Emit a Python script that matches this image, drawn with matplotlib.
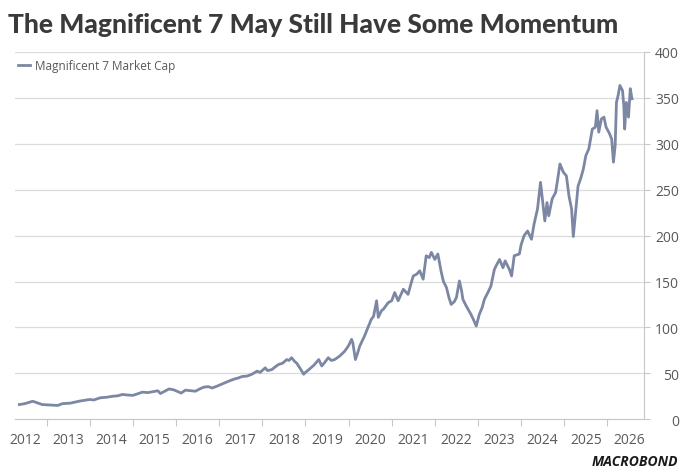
import matplotlib
matplotlib.use("Agg")
import matplotlib.pyplot as plt

# values (fractional year, market cap index)
years = [2012.37, 2012.5, 2012.68, 2012.9, 2013.1, 2013.26, 2013.37, 2013.55, 2013.76,
         2014.0, 2014.1, 2014.24, 2014.4, 2014.53, 2014.65, 2014.76, 2014.85,
         2015.0, 2015.1, 2015.22, 2015.35, 2015.52, 2015.58, 2015.64, 2015.72, 2015.84, 2015.95,
         2016.07, 2016.12, 2016.22, 2016.35, 2016.45, 2016.55, 2016.65, 2016.75, 2016.84, 2016.95,
         2017.05, 2017.14, 2017.25, 2017.37, 2017.45, 2017.53, 2017.65, 2017.76, 2017.88, 2017.95,
         2018.07, 2018.12, 2018.22, 2018.3, 2018.38, 2018.47, 2018.57, 2018.62, 2018.68, 2018.75,
         2018.8, 2018.87, 2018.96, 2019.0, 2019.08, 2019.2, 2019.31, 2019.38, 2019.45, 2019.53,
         2019.6, 2019.68, 2019.8, 2019.91, 2020.0, 2020.07, 2020.1, 2020.16, 2020.21, 2020.26,
         2020.37, 2020.45, 2020.53, 2020.58, 2020.65, 2020.69, 2020.76, 2020.81, 2020.92,
         2021.0, 2021.07, 2021.15, 2021.27, 2021.38, 2021.45, 2021.5, 2021.58, 2021.65, 2021.73,
         2021.8, 2021.87, 2021.92, 2022.0, 2022.07, 2022.15, 2022.2, 2022.27, 2022.33, 2022.38,
         2022.45, 2022.5, 2022.57, 2022.62, 2022.65, 2022.72, 2022.77, 2022.84, 2022.9, 2022.96,
         2023.03, 2023.1, 2023.15, 2023.23, 2023.3, 2023.38, 2023.42, 2023.5, 2023.58, 2023.63,
         2023.73, 2023.78, 2023.84, 2023.96, 2024.0, 2024.07, 2024.15, 2024.24, 2024.3, 2024.38,
         2024.45, 2024.51, 2024.55, 2024.6, 2024.64, 2024.72, 2024.8, 2024.85, 2024.9, 2024.98,
         2025.05, 2025.11, 2025.17, 2025.21, 2025.27, 2025.32, 2025.38, 2025.44, 2025.5, 2025.57,
         2025.65, 2025.72, 2025.76, 2025.8, 2025.86, 2025.92, 2025.97, 2026.05, 2026.1, 2026.14,
         2026.18, 2026.21, 2026.25, 2026.29, 2026.35, 2026.38, 2026.4, 2026.44, 2026.49, 2026.53,
         2026.57]
mag7 = [16, 17, 19.6, 16, 15.5, 15, 17, 17.5, 19.7,
        21.5, 21, 23.3, 24, 25, 25.5, 27, 26.5,
        26, 27.5, 29.5, 29, 30.5, 31, 28, 30, 33, 32,
        29.5, 28.5, 31.7, 31, 30.5, 33, 35, 35.5, 34, 36,
        38, 39.7, 42, 44, 45, 46.5, 47, 49, 52.4, 51,
        56, 53, 54, 57, 59.7, 61, 65, 64, 67, 63,
        61, 56, 49, 51, 54, 59, 65, 58, 62, 67,
        64, 65, 69, 74, 80, 87, 83, 65, 72, 79.7,
        90.6, 100, 109, 112, 129, 111, 118, 120, 127,
        129, 138, 129, 141.6, 136, 148, 156, 158, 161.6, 152.5,
        178, 176, 181.7, 174, 180, 160, 150, 143.4, 132, 125,
        128, 132.5, 150.6, 140, 130.7, 124, 119.8, 114, 108, 101.5,
        114, 122, 130.7, 138, 145, 163, 167, 174, 165, 172.5,
        163, 156, 178, 180, 190, 200, 205, 196, 212.5, 229,
        258, 232.5, 216, 236, 221.6, 240, 247, 262, 278, 269,
        265, 243, 229, 199, 229, 254, 262, 272, 287, 294.5,
        316, 318, 336, 312.7, 327, 329, 318, 311, 305, 280,
        298, 345, 353, 363.5, 358, 341.7, 316, 345, 329, 360,
        349]

year_labels = [str(y) for y in range(2012, 2027)]
yticks = [0, 50, 100, 150, 200, 250, 300, 350, 400]

line_col = "#7b87a3"
axis_col = "#c8c8c8"
text_col = "#595959"

fig = plt.figure(figsize=(6.83, 4.77), dpi=100)
ax = fig.add_axes([0.022, 0.119, 0.921, 0.770])

ax.plot(years, mag7, color=line_col, lw=2.0, label="Magnificent 7 Market Cap")

ax.set_xlim(2012.27, 2026.85)
ax.set_ylim(0, 400)

# year boundaries as ticks, labels centred in mid-year
ax.set_xticks(range(2013, 2027))
ax.set_xticklabels([])
ax.set_xticks([y + 0.5 for y in range(2012, 2027)], minor=True)
ax.set_xticklabels(year_labels, minor=True)
ax.tick_params(axis="x", which="major", length=5, color=axis_col, direction="out")
ax.tick_params(axis="x", which="minor", length=0, pad=9, labelsize=10, labelcolor=text_col)

ax.yaxis.tick_right()
ax.set_yticks(yticks)
ax.tick_params(axis="y", length=4, color=axis_col, pad=21, labelsize=10, labelcolor=text_col)
for lab in ax.get_yticklabels():
    lab.set_horizontalalignment("right")

for s in ["top", "left"]:
    ax.spines[s].set_visible(False)
ax.spines["right"].set_color(axis_col)
ax.spines["bottom"].set_color(axis_col)

ax.grid(axis="y", color="#dcdcdc", lw=0.9)
ax.set_axisbelow(True)

for lab in ax.get_xticklabels(minor=True) + ax.get_yticklabels():
    lab.set_family("Open Sans")

leg = ax.legend(loc="upper left", bbox_to_anchor=(-0.007, 1.0), frameon=False,
                handlelength=1.0, handletextpad=0.45, borderaxespad=0.2,
                prop={"family": "Open Sans", "size": 8.5})
for t in leg.get_texts():
    t.set_color(text_col)

fig.text(0.012, 0.947, "The Magnificent 7 May Still Have Some Momentum", fontsize=19,
         fontweight="black", family="Lato", color="#3a3a3a", va="center", ha="left")

fig.text(0.993, 0.032, "MACROBOND", fontsize=10, fontweight="bold", style="italic",
         family="Open Sans", color="#1a1a1a", ha="right", va="center")

fig.savefig("out.png", dpi=100)
